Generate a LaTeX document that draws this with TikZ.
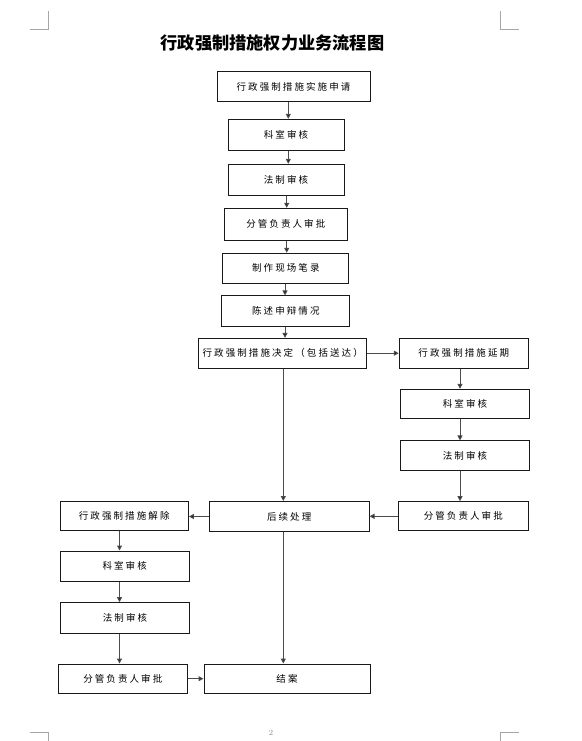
\documentclass[tikz,border=0pt]{standalone}
\usepackage{fontspec}
\newfontfamily\cjk[LetterSpace=22]{Noto Sans CJK SC}
\newfontfamily\cjktitle{Noto Sans CJK SC}
\usetikzlibrary{arrows.meta}
\tikzset{
  stepbox/.style={draw=black!90, line width=1pt, inner sep=0pt, text=black,
    font=\cjk\fontsize{9.5}{10}\selectfont},
  arr/.style={draw=black!70, line width=1pt,
    -{Triangle[length=5pt,width=5pt,fill=black!90]}},
  cornermark/.style={draw=black!35, line width=0.7pt}
}
\begin{document}
\begin{tikzpicture}[x=1pt,y=-1pt]
\useasboundingbox (0,0) rectangle (581,741);
\fill[white] (0,0) rectangle (581,741);

% corner marks
\draw[cornermark] (48.5,11) -- (48.5,29.5) -- (30,29.5);
\draw[cornermark] (500,11) -- (500,29.5) -- (519,29.5);
\draw[cornermark] (30,732.5) -- (48.5,732.5) -- (48.5,741);
\draw[cornermark] (519,732.5) -- (500,732.5) -- (500,741);

% title
\node[font=\cjktitle\bfseries\fontsize{17.2}{19}\selectfont, text=black] (title) at (272.5,43.5) {行政强制措施权力业务流程图};

% page number
\node[font=\fontsize{8}{9}\selectfont, text=black!45] (pagenum) at (271,733) {2};

% main column
\node[stepbox, minimum width=153pt, minimum height=30pt] (b1) at (293.5,87) {行政强制措施实施申请};
\node[stepbox, minimum width=116pt, minimum height=30.7pt] (b2) at (286,134.7) {科室审核};
\node[stepbox, minimum width=116pt, minimum height=30.7pt] (b3) at (286,179.7) {法制审核};
\node[stepbox, minimum width=123pt, minimum height=31.7pt] (b4) at (285.8,224.2) {分管负责人审批};
\node[stepbox, minimum width=126pt, minimum height=30pt] (b5) at (285.8,268.3) {制作现场笔录};
\node[stepbox, minimum width=128pt, minimum height=30.7pt] (b6) at (285.8,311.3) {陈述申辩情况};
\node[stepbox, minimum width=168pt, minimum height=29.7pt] (b7) at (282.7,353.2) {行政强制措施决定（包括送达）};

% right column
\node[stepbox, minimum width=129pt, minimum height=30pt] (r1) at (463.8,353.3) {行政强制措施延期};
\node[stepbox, minimum width=128.6pt, minimum height=29pt] (r2) at (465,403.8) {科室审核};
\node[stepbox, minimum width=128.6pt, minimum height=29.7pt] (r3) at (465,455.8) {法制审核};
\node[stepbox, minimum width=130pt, minimum height=29.3pt] (r4) at (463.3,516.3) {分管负责人审批};

% middle / left
\node[stepbox, minimum width=159.7pt, minimum height=30pt] (h) at (289.2,516.5) {后续处理};
\node[stepbox, minimum width=128.3pt, minimum height=29pt] (l1) at (124.2,516.2) {行政强制措施解除};
\node[stepbox, minimum width=129.3pt, minimum height=30pt] (l2) at (124.7,566) {科室审核};
\node[stepbox, minimum width=128.6pt, minimum height=30.6pt] (l3) at (125,618) {法制审核};
\node[stepbox, minimum width=129pt, minimum height=29.3pt] (l4) at (122.8,678.7) {分管负责人审批};
\node[stepbox, minimum width=166pt, minimum height=29.3pt] (e) at (287,678.7) {结案};

% column coordinates
\coordinate (c1) at (288.3,0);
\coordinate (c2) at (286.7,0);
\coordinate (c3) at (285,0);
\coordinate (c4) at (283.3,0);
\coordinate (cr) at (460,0);
\coordinate (cl) at (119.5,0);

% arrows
\draw[arr] (b1.south -| c1) -- (b2.north -| c1);
\draw[arr] (b2.south -| c1) -- (b3.north -| c1);
\draw[arr] (b3.south -| c2) -- (b4.north -| c2);
\draw[arr] (b4.south -| c2) -- (b5.north -| c2);
\draw[arr] (b5.south -| c3) -- (b6.north -| c3);
\draw[arr] (b6.south -| c3) -- (b7.north -| c3);
\draw[arr] (b7.south -| c4) -- (h.north -| c4);
\draw[arr] (b7.east) -- (b7.east -| r1.west);
\draw[arr] (r1.south -| cr) -- (r2.north -| cr);
\draw[arr] (r2.south -| cr) -- (r3.north -| cr);
\draw[arr] (r3.south -| cr) -- (r4.north -| cr);
\draw[arr] (r4.west) -- (r4.west -| h.east);
\draw[arr] (h.west) -- (h.west -| l1.east);
\draw[arr] (l1.south -| cl) -- (l2.north -| cl);
\draw[arr] (l2.south -| cl) -- (l3.north -| cl);
\draw[arr] (l3.south -| cl) -- (l4.north -| cl);
\draw[arr] (l4.east) -- (l4.east -| e.west);
\draw[arr] (h.south -| c4) -- (e.north -| c4);
\end{tikzpicture}
\end{document}
